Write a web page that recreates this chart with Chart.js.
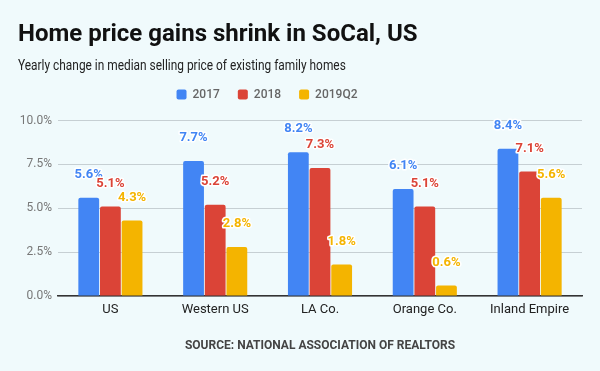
<!DOCTYPE html>
<html><head><meta charset="utf-8">
<script src="https://cdn.jsdelivr.net/npm/chart.js@4/dist/chart.umd.min.js"></script>
<style>
html,body{margin:0;padding:0;background:#f0fafc;}
#wrap{width:600px;height:371px;}
</style></head>
<body><div id="wrap"><canvas id="c" width="600" height="371"></canvas></div>
<script>
const categories = ['US','Western US','LA Co.','Orange Co.','Inland Empire'];
const seriesNames = ['2017','2018','2019Q2'];
const values2017 = [5.6,7.7,8.2,6.1,8.4];
const values2018 = [5.1,5.2,7.3,5.1,7.1];
const values2019Q2 = [4.3,2.8,1.8,0.6,5.6];
const yTicks = [0,2.5,5,7.5,10];
const colors = ['#4285F4','#DB4437','#F4B400'];
const subtitleText = 'Yearly change in median selling price of existing family homes';

const labelPlugin = {
  id:'barLabels',
  beforeInit(chart){
    const lg = chart.legend;
    if(lg){
      const origFit = lg.fit.bind(lg);
      lg.fit = function(){ origFit(); this.height += 10; };
    }
  },
  afterLayout(chart){
    const lg = chart.legend;
    if(lg){ lg.left -= 33; lg.right -= 33; }
  },
  afterDraw(chart){
    const ctx = chart.ctx;
    const tb = chart.titleBlock;
    ctx.save();
    ctx.font = '14px Roboto';
    ctx.fillStyle = '#222';
    ctx.textBaseline = 'middle';
    ctx.textAlign = 'left';
    const y = tb.bottom + 16.4;
    ctx.translate(18, y);
    ctx.scale(0.85, 1);
    ctx.fillText(subtitleText, 0, 0);
    ctx.restore();
  },
  afterDatasetsDraw(chart){
    const ctx = chart.ctx;
    ctx.save();
    ctx.font = 'bold 13px Roboto';
    ctx.textAlign='center';
    ctx.textBaseline='middle';
    ctx.lineJoin='round';
    chart.data.datasets.forEach((ds,i)=>{
      chart.getDatasetMeta(i).data.forEach((bar,j)=>{
        const t = ds.data[j].toFixed(1)+'%';
        const y = bar.y - 23;
        ctx.lineWidth=3; ctx.strokeStyle='#ffffff';
        ctx.strokeText(t,bar.x,y);
        ctx.fillStyle=colors[i];
        ctx.fillText(t,bar.x,y);
      });
    });
    ctx.restore();
  }
};

new Chart(document.getElementById('c'),{
  type:'bar',
  data:{labels:categories,datasets:[
    {label:seriesNames[0],data:values2017,backgroundColor:colors[0]},
    {label:seriesNames[1],data:values2018,backgroundColor:colors[1]},
    {label:seriesNames[2],data:values2019Q2,backgroundColor:colors[2]}
  ]},
  options:{
    responsive:false,animation:false,
    datasets:{bar:{categoryPercentage:0.62,barPercentage:0.96,borderRadius:{topLeft:2,topRight:2}}},
    layout:{padding:{left:18,right:18,bottom:14,top:0}},
    plugins:{
      title:{display:true,text:'Home price gains shrink in SoCal, US',align:'start',color:'#111',
        font:{family:'Roboto',size:24,weight:'bold'},padding:{top:21,bottom:0}},
      subtitle:{display:true,text:subtitleText,align:'start',color:'rgba(0,0,0,0)',
        font:{family:'Roboto',size:14},padding:{top:4,bottom:0}},
      legend:{labels:{boxWidth:10,boxHeight:10,useBorderRadius:true,borderRadius:2,padding:18,color:'#666',
        font:{family:'Roboto',size:12,weight:'500'}}},
      tooltip:{enabled:false}
    },
    scales:{
      x:{grid:{display:false},border:{color:'#333',width:1.5},
        ticks:{color:'#222',font:{family:'Roboto',size:13},padding:-2},
        title:{display:true,text:'SOURCE: NATIONAL ASSOCIATION OF REALTORS',color:'#444',
          font:{family:'Roboto',size:12,weight:'bold'},padding:{top:23}}},
      y:{min:0,max:10,border:{display:false},grid:{color:'#c6cfd3',drawTicks:false},
        afterFit(s){ s.width = 40; },
        afterBuildTicks(ax){ax.ticks=yTicks.map(v=>({value:v}));},
        ticks:{color:'#777',font:{family:'Roboto',size:12},padding:6,callback:v=>v.toFixed(1)+'%'}}
    }
  },
  plugins:[labelPlugin]
});
</script></body></html>
